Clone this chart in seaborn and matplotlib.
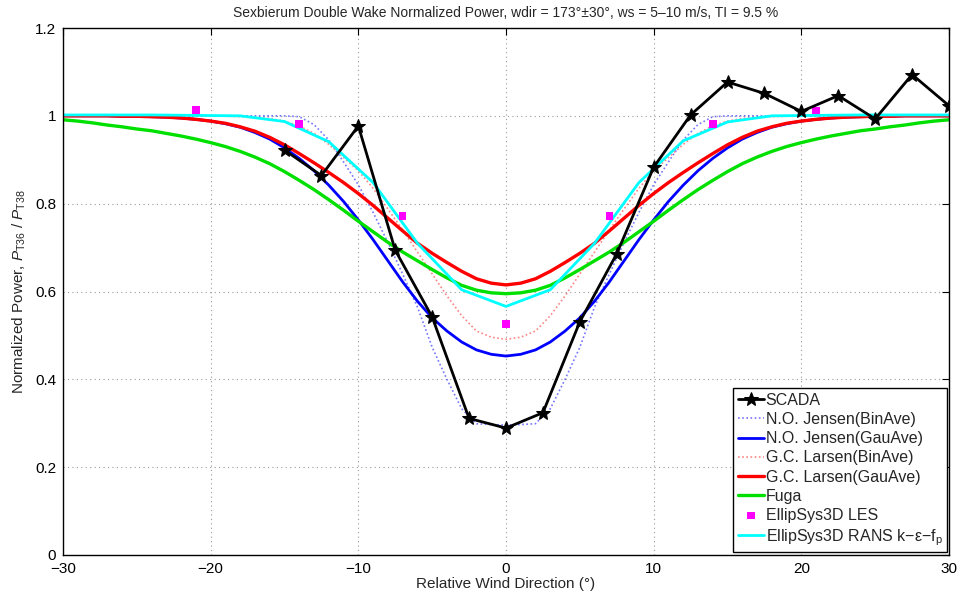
import numpy as np
import pandas as pd
import matplotlib
matplotlib.use("Agg")
import matplotlib.pyplot as plt
import seaborn as sns

# ---------------- data ----------------
scada_dir = [-15, -12.5, -10, -7.5, -5, -2.5, 0, 2.5, 5, 7.5, 10, 12.5, 15, 17.5,
             20, 22.5, 25, 27.5, 30]
scada_pow = [0.922, 0.864, 0.977, 0.694, 0.542, 0.311, 0.289, 0.324, 0.531, 0.686,
             0.883, 1.002, 1.077, 1.051, 1.010, 1.046, 0.993, 1.094, 1.023]

model_dir = list(range(-30, 31))
jensen_bin = [1.0, 1.0, 1.0, 1.0, 1.0, 1.0, 1.0, 1.0, 1.0, 1.0, 1.0, 1.0, 1.0, 1.0, 1.0, 1.0,
              0.998, 0.98, 0.945, 0.895, 0.843, 0.78, 0.712, 0.64, 0.565, 0.473, 0.40, 0.333,
              0.299, 0.297, 0.296, 0.297, 0.299, 0.333, 0.40, 0.473, 0.565, 0.64, 0.712, 0.78,
              0.843, 0.895, 0.945, 0.98, 0.998, 1.0, 1.0, 1.0, 1.0, 1.0, 1.0, 1.0, 1.0, 1.0,
              1.0, 1.0, 1.0, 1.0, 1.0, 1.0, 1.0]
jensen_gau = [1.0, 1.0, 1.0, 1.0, 0.999, 0.999, 0.998, 0.997, 0.995, 0.992, 0.988, 0.982,
              0.974, 0.962, 0.947, 0.927, 0.903, 0.875, 0.842, 0.805, 0.763, 0.718, 0.670,
              0.622, 0.578, 0.540, 0.510, 0.485, 0.467, 0.457, 0.453, 0.457, 0.467, 0.485,
              0.510, 0.540, 0.578, 0.622, 0.670, 0.718, 0.763, 0.805, 0.842, 0.875, 0.903,
              0.927, 0.947, 0.962, 0.974, 0.982, 0.988, 0.992, 0.995, 0.997, 0.998, 0.999,
              0.999, 1.0, 1.0, 1.0, 1.0]
larsen_bin = [1.0, 1.0, 1.0, 1.0, 1.0, 1.0, 1.0, 1.0, 1.0, 1.0, 1.0, 0.999, 0.998, 0.997,
              0.994, 0.988, 0.977, 0.96, 0.935, 0.905, 0.875, 0.835, 0.788, 0.74, 0.69, 0.64,
              0.59, 0.545, 0.510, 0.496, 0.491, 0.496, 0.510, 0.545, 0.59, 0.64, 0.69, 0.74,
              0.788, 0.835, 0.875, 0.905, 0.935, 0.96, 0.977, 0.988, 0.994, 0.997, 0.998,
              0.999, 1.0, 1.0, 1.0, 1.0, 1.0, 1.0, 1.0, 1.0, 1.0, 1.0, 1.0]
larsen_gau = [1.0, 1.0, 1.0, 1.0, 0.999, 0.999, 0.998, 0.997, 0.995, 0.992, 0.988, 0.983,
              0.975, 0.965, 0.951, 0.934, 0.914, 0.893, 0.871, 0.848, 0.823, 0.796, 0.767,
              0.738, 0.710, 0.687, 0.666, 0.646, 0.629, 0.619, 0.615, 0.619, 0.629, 0.646,
              0.666, 0.687, 0.710, 0.738, 0.767, 0.796, 0.823, 0.848, 0.871, 0.893, 0.914,
              0.934, 0.951, 0.965, 0.975, 0.983, 0.988, 0.992, 0.995, 0.997, 0.998, 0.999,
              0.999, 1.0, 1.0, 1.0, 1.0]
fuga = [0.991, 0.988, 0.984, 0.979, 0.975, 0.970, 0.966, 0.960, 0.954, 0.947, 0.939, 0.930,
        0.919, 0.906, 0.891, 0.873, 0.853, 0.832, 0.809, 0.785, 0.760, 0.736, 0.712, 0.690,
        0.670, 0.650, 0.631, 0.614, 0.603, 0.597, 0.595, 0.597, 0.603, 0.614, 0.631, 0.650,
        0.670, 0.690, 0.712, 0.736, 0.760, 0.785, 0.809, 0.832, 0.853, 0.873, 0.891, 0.906,
        0.919, 0.930, 0.939, 0.947, 0.954, 0.960, 0.966, 0.970, 0.975, 0.979, 0.984, 0.988,
        0.991]

les_dir = [-21, -14, -7, 0, 7, 14, 21]
les_pow = [1.013, 0.981, 0.772, 0.526, 0.772, 0.982, 1.012]

rans_dir = list(range(-30, 31, 3))
rans_pow = [1.002, 1.002, 1.002, 1.001, 1.0, 0.987, 0.941, 0.848, 0.710, 0.604, 0.566,
            0.604, 0.710, 0.848, 0.943, 0.986, 1.0, 1.001, 1.002, 1.002, 1.002]

labels = ["SCADA", "N.O. Jensen(BinAve)", "N.O. Jensen(GauAve)", "G.C. Larsen(BinAve)",
          "G.C. Larsen(GauAve)", "Fuga", "EllipSys3D LES",
          "EllipSys3D RANS k\u2212\u03b5\u2212f$_{\\mathrm{p}}$"]

x_ticks = [-30, -20, -10, 0, 10, 20, 30]
x_ticklabels = ["\u221230", "\u221220", "\u221210", "0", "10", "20", "30"]
y_ticks = [0, 0.2, 0.4, 0.6, 0.8, 1.0, 1.2]
y_ticklabels = ["0", "0.2", "0.4", "0.6", "0.8", "1", "1.2"]

# ---------------- style ----------------
sns.set_style("white")
plt.rcParams["font.family"] = ["Liberation Sans", "DejaVu Sans"]
plt.rcParams["mathtext.fontset"] = "custom"
plt.rcParams["mathtext.rm"] = "Liberation Sans"
plt.rcParams["mathtext.it"] = "Liberation Sans:italic"
plt.rcParams["mathtext.bf"] = "Liberation Sans:bold"

fig = plt.figure(figsize=(9.63, 5.94), dpi=100)
ax = fig.add_axes([63 / 963, 1 - 555 / 594, (949 - 63) / 963, (555 - 28) / 594])

df_model = pd.DataFrame({"dir": model_dir, "jb": jensen_bin, "jg": jensen_gau,
                         "lb": larsen_bin, "lg": larsen_gau, "fuga": fuga})
df_scada = pd.DataFrame({"dir": scada_dir, "p": scada_pow})
df_les = pd.DataFrame({"dir": les_dir, "p": les_pow})
df_rans = pd.DataFrame({"dir": rans_dir, "p": rans_pow})

sns.lineplot(data=df_scada, x="dir", y="p", ax=ax, color="black", lw=2, marker="*",
             markersize=10, markeredgecolor="black", label=labels[0], zorder=10,
             estimator=None, sort=False)
sns.lineplot(data=df_model, x="dir", y="jb", ax=ax, color="#3b3bff", lw=1.2,
             linestyle=(0, (1, 1.5)), label=labels[1], estimator=None, alpha=0.7)
sns.lineplot(data=df_model, x="dir", y="jg", ax=ax, color="#0000ff", lw=2,
             label=labels[2], estimator=None)
sns.lineplot(data=df_model, x="dir", y="lb", ax=ax, color="#ff5050", lw=1.2,
             linestyle=(0, (1, 1.5)), label=labels[3], estimator=None, alpha=0.7)
sns.lineplot(data=df_model, x="dir", y="lg", ax=ax, color="#ff0000", lw=2.4,
             label=labels[4], estimator=None)
sns.lineplot(data=df_model, x="dir", y="fuga", ax=ax, color="#00e000", lw=2.4,
             label=labels[5], estimator=None)
sns.scatterplot(data=df_les, x="dir", y="p", ax=ax, color="#ff00ff", marker="s", s=30,
                edgecolor="none", label=labels[6], zorder=8)
sns.lineplot(data=df_rans, x="dir", y="p", ax=ax, color="#00ffff", lw=2,
             label=labels[7], estimator=None)

ax.set_xlim(-30, 30)
ax.set_ylim(0, 1.2)
ax.set_xticks(x_ticks)
ax.set_xticklabels(x_ticklabels)
ax.set_yticks(y_ticks)
ax.set_yticklabels(y_ticklabels)
ax.grid(True, linestyle=(0, (1, 3)), color="#999999", linewidth=0.8)
ax.tick_params(direction="in", top=True, right=True, length=5, width=0.8,
               labelsize=11, colors="black")
ax.tick_params(axis="x", pad=5)
ax.tick_params(axis="y", pad=5)
for sp in ax.spines.values():
    sp.set_color("black")
    sp.set_linewidth(1.0)

ax.set_xlabel("Relative Wind Direction (\u00b0)", fontsize=11, labelpad=1)
ax.set_ylabel("Normalized Power, $\\mathit{P}_{\\mathrm{T36}}$ / $\\mathit{P}_{\\mathrm{T38}}$",
              fontsize=11, labelpad=5)
ax.set_title("Sexbierum Double Wake Normalized Power, wdir = 173\u00b0\u00b130\u00b0, "
             "ws = 5\u201310 m/s, TI = 9.5 %", fontsize=10, pad=8)

leg = ax.legend(loc="lower right", bbox_to_anchor=(0.998, 0.005), borderaxespad=0,
                fontsize=11.5, frameon=True, fancybox=False, framealpha=1,
                edgecolor="black", handlelength=1.6, handletextpad=0.12,
                labelspacing=0.26, borderpad=0.3)
leg.get_frame().set_linewidth(1.0)

fig.savefig("out.png", dpi=100)
